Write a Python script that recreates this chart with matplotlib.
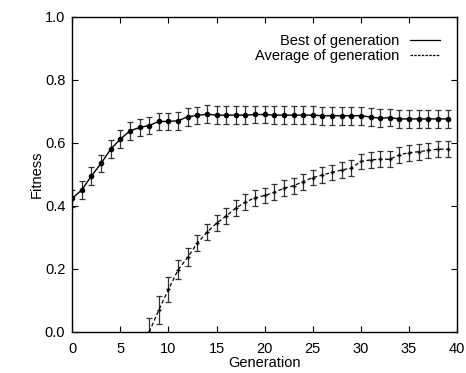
import matplotlib.pyplot as plt
import numpy as np
from matplotlib.lines import Line2D

plt.rcParams['font.family'] = ['Liberation Sans', 'DejaVu Sans']

# fitness per generation
gens = np.arange(0, 40)
best = [0.424, 0.451, 0.495, 0.535, 0.580, 0.612, 0.638, 0.649, 0.655, 0.668,
        0.668, 0.670, 0.683, 0.687, 0.691, 0.688, 0.688, 0.688, 0.688, 0.690,
        0.690, 0.688, 0.688, 0.688, 0.688, 0.688, 0.686, 0.686, 0.686, 0.686,
        0.686, 0.682, 0.678, 0.680, 0.676, 0.676, 0.676, 0.676, 0.676, 0.676]
best_err = [0.028, 0.028, 0.028, 0.028, 0.028, 0.028, 0.028, 0.026, 0.026, 0.028,
            0.028, 0.028, 0.028, 0.028, 0.028, 0.028, 0.028, 0.028, 0.028, 0.028,
            0.028, 0.028, 0.028, 0.028, 0.028, 0.028, 0.028, 0.028, 0.028, 0.028,
            0.028, 0.028, 0.028, 0.028, 0.028, 0.028, 0.028, 0.028, 0.028, 0.028]

avg_gens = np.arange(8, 40)
avg = [0.000, 0.070, 0.135, 0.197, 0.237, 0.282, 0.316, 0.345, 0.368, 0.393,
       0.412, 0.426, 0.433, 0.443, 0.456, 0.464, 0.477, 0.490, 0.498, 0.506,
       0.514, 0.520, 0.541, 0.546, 0.548, 0.548, 0.562, 0.569, 0.572, 0.576,
       0.580, 0.580]
avg_err = [0.045, 0.045, 0.04, 0.03, 0.028, 0.025, 0.025, 0.025, 0.025, 0.025,
           0.025, 0.025, 0.025, 0.025, 0.025, 0.025, 0.025, 0.025, 0.025, 0.025,
           0.025, 0.025, 0.025, 0.025, 0.025, 0.025, 0.025, 0.025, 0.025, 0.025,
           0.025, 0.025]

fig = plt.figure(figsize=(4.66, 3.73), dpi=100)
ax = fig.add_axes([0.155, 0.11, 0.826, 0.845])

ax.errorbar(gens, best, yerr=best_err, color='black', lw=1.0, marker='o', ms=3,
            ecolor='#333333', elinewidth=0.9, capsize=2.5, capthick=0.9)
ax.errorbar(avg_gens, avg, yerr=avg_err, color='black', lw=0.9, ls=(0, (3, 2)),
            marker='+', ms=3, ecolor='#333333', elinewidth=0.9, capsize=2.5, capthick=0.9)

ax.set_xlim(0, 40)
ax.set_ylim(0, 1.0)
ax.set_xticks(np.arange(0, 41, 5))
ax.set_yticks(np.arange(0, 1.01, 0.2))
ax.set_yticklabels([f'{v:.1f}' for v in np.arange(0, 1.01, 0.2)])
ax.tick_params(direction='in', top=True, right=True, length=4, width=0.8,
               labelsize=10.5)
ax.tick_params(axis='x', pad=7)
ax.tick_params(axis='y', pad=5)
for s in ax.spines.values():
    s.set_linewidth(1.0)

ax.set_xlabel('Generation', fontsize=10.5, labelpad=0)
ax.set_ylabel('Fitness', fontsize=10.5, labelpad=1)

handles = [Line2D([], [], color='black', lw=0.9),
           Line2D([], [], color='black', lw=0.9, ls=(0, (2, 1)))]
ax.legend(handles, ['Best of generation', 'Average of generation'],
          loc='upper right', frameon=False, markerfirst=False, fontsize=10.5,
          handlelength=2.0, handletextpad=0.8, labelspacing=0.05,
          borderaxespad=0.9, borderpad=0.3)

fig.savefig('out.png', dpi=100)
